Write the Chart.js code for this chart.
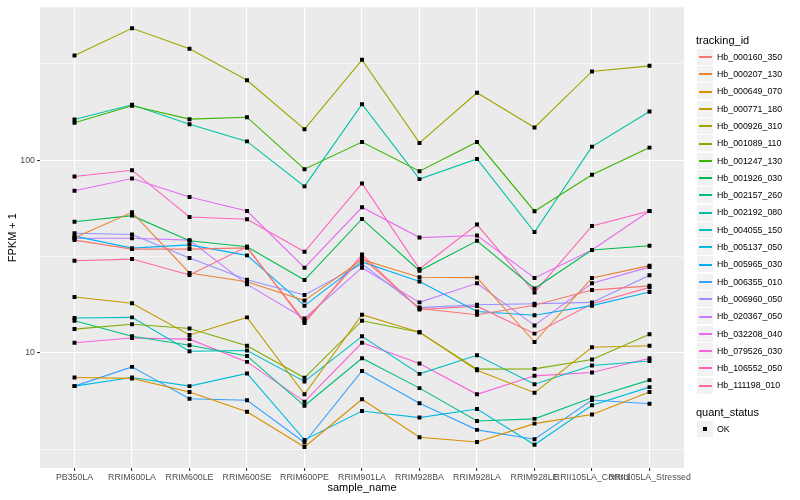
<!DOCTYPE html>
<html>
<head>
<meta charset="utf-8">
<title>FPKM + 1 by sample_name</title>
<script src="https://cdn.jsdelivr.net/npm/chart.js@4.4.1/dist/chart.umd.min.js"></script>
<style>
  body { margin: 0; background: #fff; font-family: "Liberation Sans", Arial, sans-serif; }
  #wrap { position: relative; width: 800px; height: 500px; }
  #legend { position: absolute; left: 0; top: 0; width: 800px; height: 500px; pointer-events: none; }
  .txt { position: absolute; white-space: nowrap; color: #000; }
  .key { position: absolute; background: #f2f2f2; }
  .swatch { position: absolute; }
</style>
</head>
<body>
<div id="wrap">
  <canvas id="fpkm" width="800" height="500"></canvas>
  <div id="legend"></div>
</div>
<script>
// samples on the x axis
var samples = ["PB350LA", "RRIM600LA", "RRIM600LE", "RRIM600SE", "RRIM600PE", "RRIM901LA",
               "RRIM928BA", "RRIM928LA", "RRIM928LE", "RRII105LA_Control", "RRII105LA_Stressed"];

// FPKM + 1 per gene, one value per sample
var hb_000160_350 = [38.5, 34.6, 34.6, 35.1, 14.6, 31.3, 17.0, 15.8, 17.7, 21.2, 22.3];
var hb_000207_130 = [39.6, 53.7, 26.0, 23.4, 18.7, 30.5, 24.7, 24.6, 11.4, 24.5, 28.4];
var hb_000649_070 = [7.46, 7.38, 6.27, 4.96, 3.25, 5.75, 3.65, 3.45, 4.30, 4.79, 6.27];
var hb_000771_180 = [19.5, 18.1, 12.4, 15.3, 6.10, 15.8, 12.8, 8.14, 6.22, 10.7, 10.9];
var hb_000926_310 = [350, 484, 379, 260, 145, 332, 123, 224, 148, 289, 309];
var hb_001089_110 = [13.3, 14.1, 13.4, 10.9, 7.43, 14.7, 12.8, 8.24, 8.27, 9.25, 12.5];
var hb_001247_130 = [156.5, 191.6, 163.4, 167.3, 89.9, 124.3, 87.7, 124.3, 54.4, 84.0, 116.3];
var hb_001926_030 = [48.0, 51.6, 38.2, 35.6, 23.9, 49.6, 26.7, 38.2, 21.6, 34.2, 36.0];
var hb_002157_260 = [14.7, 12.2, 10.96, 9.65, 5.32, 9.39, 6.57, 4.44, 4.55, 5.86, 7.23];
var hb_002192_080 = [162.8, 193.9, 153.9, 125.3, 73.2, 195.3, 79.8, 101.6, 42.4, 117.7, 179.1];
var hb_004055_150 = [15.2, 15.3, 10.2, 10.3, 7.12, 12.2, 7.79, 9.73, 6.89, 8.61, 9.09];
var hb_005137_050 = [6.73, 7.46, 6.73, 7.83, 3.54, 5.00, 4.62, 5.12, 3.34, 5.35, 6.65];
var hb_005965_030 = [40.4, 35.0, 36.4, 32.1, 17.6, 29.7, 23.5, 16.4, 15.7, 17.6, 20.7];
var hb_006355_010 = [6.73, 8.47, 5.79, 5.68, 3.43, 8.07, 5.48, 3.99, 3.57, 5.70, 5.45];
var hb_006960_050 = [41.8, 41.2, 31.1, 24.0, 20.0, 29.0, 17.2, 17.8, 18.0, 18.3, 25.3];
var hb_020367_050 = [39.4, 39.4, 38.5, 22.7, 15.1, 27.7, 18.3, 23.0, 13.9, 23.0, 27.9];
var hb_032208_040 = [69.4, 80.4, 64.4, 54.5, 27.7, 57.0, 39.7, 40.7, 24.5, 34.2, 54.5];
var hb_079526_030 = [11.3, 11.96, 11.8, 8.99, 5.59, 11.3, 8.82, 6.10, 7.61, 7.92, 9.39];
var hb_106552_050 = [82.4, 88.8, 50.8, 49.4, 33.5, 75.8, 27.3, 46.4, 20.6, 45.6, 54.5];
var hb_111198_010 = [30.1, 30.7, 25.4, 35.6, 14.3, 32.4, 16.8, 17.5, 12.6, 18.0, 21.9];

var ids = ["Hb_000160_350", "Hb_000207_130", "Hb_000649_070", "Hb_000771_180", "Hb_000926_310",
           "Hb_001089_110", "Hb_001247_130", "Hb_001926_030", "Hb_002157_260", "Hb_002192_080",
           "Hb_004055_150", "Hb_005137_050", "Hb_005965_030", "Hb_006355_010", "Hb_006960_050",
           "Hb_020367_050", "Hb_032208_040", "Hb_079526_030", "Hb_106552_050", "Hb_111198_010"];
var series = [hb_000160_350, hb_000207_130, hb_000649_070, hb_000771_180, hb_000926_310,
              hb_001089_110, hb_001247_130, hb_001926_030, hb_002157_260, hb_002192_080,
              hb_004055_150, hb_005137_050, hb_005965_030, hb_006355_010, hb_006960_050,
              hb_020367_050, hb_032208_040, hb_079526_030, hb_106552_050, hb_111198_010];
// (not called "status" - that one is taken by window.status)
var quantStatus = ["OK"];

// y axis breaks (log10): labelled majors and the half-decade minors
var yLabels = [10, 100];
var yMinor = [Math.pow(10, 0.5), Math.pow(10, 1.5), Math.pow(10, 2.5)];

// ggplot default hue palette for 20 groups
var colors = ["#F8766D", "#EA8331", "#D89000", "#C09B00", "#A3A500", "#7CAE00", "#39B600",
              "#00BB4E", "#00BF7D", "#00C1A3", "#00BFC4", "#00BAE0", "#00B0F6", "#35A2FF",
              "#9590FF", "#C77CFF", "#E76BF3", "#FA62DB", "#FF62BC", "#FF6C90"];

var FONT = '"Liberation Sans", Arial, sans-serif';
Chart.defaults.font.family = FONT;

function isMajor(v) {
  return yLabels.some(function(m) { return Math.abs(m - v) < 1e-6; });
}

// grey panel behind the grid
var panelBg = {
  id: 'panelBg',
  beforeDraw: function(chart) {
    var a = chart.chartArea, c = chart.ctx;
    c.save();
    c.fillStyle = '#ebebeb';
    c.fillRect(a.left, a.top, a.right - a.left, a.bottom - a.top);
    c.restore();
  }
};

var datasets = ids.map(function(id, i) {
  return {
    label: id,
    data: series[i].map(function(v, j) { return { x: j, y: v }; }),
    borderColor: colors[i],
    backgroundColor: colors[i],
    borderWidth: 1.1,
    pointRadius: 0,
    tension: 0,
    fill: false,
    order: 1
  };
});

// all the points go on top of the lines, like geom_point after geom_line
var pts = [];
series.forEach(function(s) {
  s.forEach(function(v, j) { pts.push({ x: j, y: v }); });
});
datasets.push({
  label: quantStatus[0],
  data: pts,
  showLine: false,
  pointStyle: 'rect',
  pointRadius: 2.8,
  pointBorderWidth: 0,
  pointBackgroundColor: '#000',
  order: 0
});

var chart = new Chart(document.getElementById('fpkm').getContext('2d'), {
  type: 'line',
  data: { datasets: datasets },
  plugins: [panelBg],
  options: {
    responsive: false,
    animation: false,
    layout: { padding: { left: 0, top: 5, right: 116, bottom: 0 } },
    plugins: { legend: { display: false }, tooltip: { enabled: false } },
    scales: {
      x: {
        type: 'linear',
        min: -0.6,
        max: samples.length - 1 + 0.6,
        afterBuildTicks: function(sc) {
          sc.ticks = samples.map(function(s, i) { return { value: i }; });
        },
        afterFit: function(sc) { sc.height = 32; },
        ticks: {
          autoSkip: false, maxRotation: 0, minRotation: 0,
          color: '#4d4d4d', padding: 1,
          font: { size: 8.8 },
          callback: function(v) { return samples[v]; }
        },
        grid: { color: '#ffffff', lineWidth: 1.1, tickColor: '#333333', tickLength: 3 },
        border: { display: false },
        title: {
          display: true, text: 'sample_name', color: '#000',
          font: { size: 11 }, padding: { top: 0, bottom: 5 }
        }
      },
      y: {
        type: 'logarithmic',
        min: 2.53,
        max: 622,
        afterBuildTicks: function(sc) {
          sc.ticks = yMinor.concat(yLabels).sort(function(a, b) { return a - b; })
            .map(function(v) { return { value: v, major: isMajor(v) }; });
        },
        afterFit: function(sc) { sc.width = 40; },
        ticks: {
          color: '#4d4d4d', padding: 2,
          font: { size: 8.8 },
          callback: function(v) { return isMajor(v) ? String(Math.round(v)) : ''; }
        },
        grid: {
          color: '#ffffff',
          lineWidth: function(c) { return c.tick && isMajor(c.tick.value) ? 1.1 : 0.55; },
          tickColor: function(c) { return c.tick && isMajor(c.tick.value) ? '#333333' : 'rgba(0,0,0,0)'; },
          tickLength: 3
        },
        border: { display: false },
        title: {
          display: true, text: 'FPKM + 1', color: '#000',
          font: { size: 11 }, padding: { top: 6, bottom: 0 }
        }
      }
    }
  }
});

// legend on the right, built from the same ids / colours
var legend = document.getElementById('legend');
function addText(txt, x, yc, size) {
  var d = document.createElement('div');
  d.className = 'txt';
  d.textContent = txt;
  d.style.left = x + 'px';
  d.style.top = (yc - size * 0.6) + 'px';
  d.style.fontSize = size + 'px';
  d.style.lineHeight = (size * 1.2) + 'px';
  legend.appendChild(d);
}
function addBox(cls, x, y, w, h, bg) {
  var d = document.createElement('div');
  d.className = cls;
  d.style.left = x + 'px';
  d.style.top = y + 'px';
  d.style.width = w + 'px';
  d.style.height = h + 'px';
  if (bg) d.style.background = bg;
  legend.appendChild(d);
}

var step = 17.3;
addText('tracking_id', 696, 40.7, 11);
ids.forEach(function(id, i) {
  var yc = 57 + i * step;
  addBox('key', 697, Math.round(yc - step / 2 + 0.5), 16, 16);
  addBox('swatch', 699, Math.round(yc) - 1, 13, 2, colors[i]);
  addText(id, 717, yc, 8.8);
});

addText('quant_status', 696, 412.7, 11);
addBox('key', 697, 421, 16, 16);
addBox('swatch', 703, 427, 4, 4, '#000');
addText(quantStatus[0], 717, 429, 8.8);
</script>
</body>
</html>
